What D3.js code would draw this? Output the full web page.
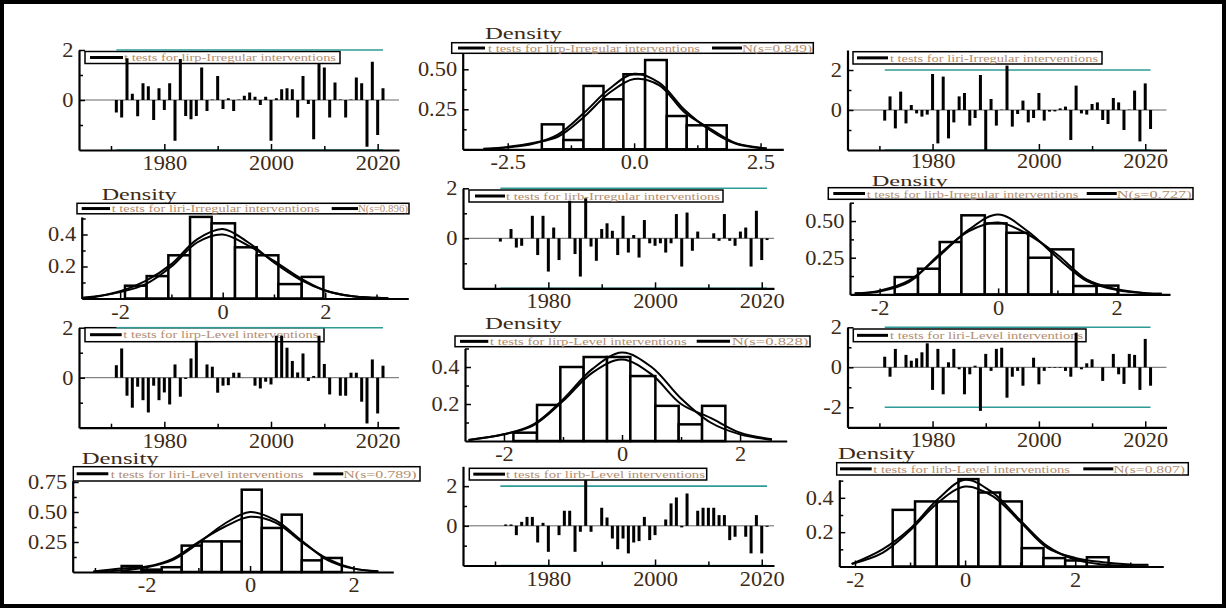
<!DOCTYPE html>
<html><head><meta charset="utf-8"><title>t tests</title>
<script src="https://cdn.jsdelivr.net/npm/d3@7/dist/d3.min.js"></script>
<style>html,body{margin:0;padding:0;background:#fff;}svg{display:block;}</style>
</head><body>
<svg id="chart" width="1227" height="609"></svg>
<script>
// ---------------- DATA ----------------
const years = [1971,1972,1973,1974,1975,1976,1977,1978,1979,1980,
  1981,1982,1983,1984,1985,1986,1987,1988,1989,1990,
  1991,1992,1993,1994,1995,1996,1997,1998,1999,2000,
  2001,2002,2003,2004,2005,2006,2007,2008,2009,2010,
  2011,2012,2013,2014,2015,2016,2017,2018,2019,2020,2021];

const tLirpIrregular = [-0.5,-0.7,1.67,0.25,-0.65,0.67,0.55,-0.8,0.47,-0.4,
  0.67,-1.63,1.64,-0.64,-0.77,-0.64,1.3,-0.44,0.02,0.96,
  -0.36,0.07,-0.44,0.02,0.17,0.3,0.13,-0.2,0.13,-1.63,
  0.07,0.43,0.47,0.43,-0.7,0.96,-0.16,-1.57,1.47,1.3,
  -0.7,0.7,0.02,-0.7,0.02,0.9,0.67,-1.87,1.53,-1.4,0.47];
const tLiriIrregular = [-0.53,0.68,-0.92,0.92,-0.67,0.25,-0.17,-0.33,-0.23,1.8,
  -1.67,1.67,-1.42,-0.62,0.68,0.85,-0.78,-0.4,1.75,-2.0,
  0.55,-0.78,0.02,2.22,-0.83,-0.2,0.47,-0.62,-0.4,0.85,
  -0.53,-0.08,-0.07,0.08,0.17,-1.5,1.22,-0.17,-0.23,0.3,
  0.38,-0.5,-0.7,0.6,0.38,-1.0,0.02,0.97,-1.57,1.33,-0.95];
const tLirbIrregular = [-0.13,0.0,0.37,-0.37,-0.3,0.0,0.9,-0.67,0.9,-1.33,
  0.43,-0.87,0.0,1.5,-0.63,-1.53,1.6,-0.33,-0.9,0.37,
  0.6,0.3,-0.67,0.9,-0.57,0.13,-0.77,0.73,-0.2,-0.3,
  -0.2,-0.57,-0.2,0.97,-1.13,1.03,-0.5,0.27,0.0,0.0,
  0.2,-0.1,0.97,-0.1,-0.3,0.27,0.43,-1.13,1.1,-0.87,-0.07];
const tLirpLevel = [0.5,1.17,-0.72,-1.2,-0.36,-0.9,-1.39,-0.32,-0.9,-0.59,
  -1.07,0.53,-0.76,-0.05,0.77,1.48,0.0,0.53,0.44,-0.6,
  -0.32,-0.3,0.2,0.2,0.0,0.0,-0.32,-0.43,-0.16,-0.27,
  1.68,1.68,1.2,0.67,0.21,0.97,-0.13,0.07,1.68,0.55,
  -0.67,0.0,-0.72,-0.72,0.2,0.2,-0.96,-1.83,0.73,-1.43,0.48];
const tLiriLevel = [0.53,-0.47,0.92,0.0,0.62,0.33,0.45,0.75,1.2,-1.13,
  0.92,-1.35,0.25,0.92,-0.1,-1.35,-0.35,0.08,-2.18,0.67,
  -0.18,0.92,0.98,-1.52,-0.47,-0.18,-0.92,0.0,0.48,-0.85,
  -0.18,-0.03,-0.03,-0.03,-0.18,-0.47,1.73,-0.1,0.2,0.4,
  0.0,-0.68,0.0,0.67,-0.35,-0.83,0.67,0.62,-1.13,1.42,-0.92];
const tLirbLevel = [0.0,0.07,0.07,-0.47,0.2,0.45,0.45,-0.84,0.15,-1.31,
  0.0,-0.47,0.76,0.76,-1.31,-0.3,2.3,-0.3,0.0,0.91,
  0.42,-0.64,-1.18,-0.64,-1.39,-0.84,-0.77,0.45,-0.72,-0.47,
  0.0,0.32,1.13,1.43,-0.08,1.63,0.0,0.76,0.91,0.91,
  0.91,0.54,0.54,-0.72,-0.55,0.0,-0.55,-1.39,0.54,-1.39,-0.05];

// histograms: bin edges and densities
const histLirpIrrEdges = [-1.825,-1.397,-1.001,-0.606,-0.211,0.217,0.645,1.04,1.436,1.831];
const histLirpIrrDens  = [0.156,0.058,0.396,0.3125,0.469,0.558,0.208,0.15,0.15];
const histLiriIrrEdges = [-1.906,-1.483,-1.06,-0.637,-0.215,0.24,0.663,1.086,1.541,1.964];
const histLiriIrrDens  = [0.08,0.14,0.27,0.51,0.47,0.32,0.27,0.09,0.135];
const histLirbIrrEdges = [-1.746,-1.352,-0.986,-0.62,-0.225,0.141,0.507,0.901,1.268,1.662,2.028];
const histLirbIrrDens  = [0.118,0.175,0.357,0.539,0.484,0.42,0.25,0.307,0.057,0.06];
const histLirpLevEdges = [-1.84,-1.44,-1.045,-0.65,-0.254,0.141,0.565,0.96,1.356,1.751];
const histLirpLevDens  = [0.045,0.195,0.4,0.454,0.454,0.351,0.19,0.09,0.19];
const histLiriLevEdges = [-2.483,-2.096,-1.709,-1.322,-0.935,-0.548,-0.161,0.226,0.613,1.0,1.387,1.774];
const histLiriLevDens  = [0.05,0.02,0.04,0.22,0.255,0.255,0.686,0.367,0.478,0.097,0.117];
const histLirbLevEdges = [-1.315,-0.909,-0.515,-0.121,0.242,0.636,1.03,1.424,1.818,2.212,2.606];
const histLirbLevDens  = [0.33,0.379,0.379,0.509,0.431,0.379,0.107,0.049,0.035,0.054];

// density curves: x, normal N(s=...), estimated density
const curveLirpIrrX    = [-2.98,-2.5,-2,-1.5,-1,-0.5,0,0.5,1,1.5,2,2.5,2.62];
const curveLirpIrrNorm = [0.002,0.012,0.035,0.094,0.225,0.375,0.472,0.415,0.245,0.12,0.036,0.008,0.005];
const curveLirpIrrKern = [0.003,0.015,0.04,0.08,0.2,0.35,0.44,0.4,0.23,0.13,0.04,0.01,0.006];
const curveLiriIrrX    = [-2.72,-2.5,-2,-1.5,-1,-0.5,0,0.5,1,1.5,2,2.5,3,3.23];
const curveLiriIrrNorm = [0.004,0.01,0.045,0.11,0.215,0.37,0.435,0.35,0.225,0.12,0.05,0.015,0.004,0.002];
const curveLiriIrrKern = [0.005,0.012,0.04,0.09,0.2,0.35,0.4,0.33,0.235,0.13,0.05,0.015,0.004,0.002];
const curveLirbIrrX    = [-2.42,-2,-1.5,-1,-0.5,0,0.5,1,1.5,2,2.5,2.76];
const curveLirbIrrNorm = [0.006,0.025,0.095,0.26,0.44,0.545,0.43,0.25,0.09,0.03,0.007,0.004];
const curveLirbIrrKern = [0.007,0.02,0.085,0.27,0.43,0.49,0.41,0.27,0.1,0.035,0.008,0.004];
const curveLirpLevX    = [-2.6,-2,-1.5,-1,-0.5,0,0.5,1,1.5,2,2.54];
const curveLirpLevNorm = [0.005,0.036,0.09,0.225,0.39,0.478,0.4,0.23,0.1,0.036,0.006];
const curveLirpLevKern = [0.006,0.036,0.085,0.216,0.37,0.44,0.36,0.2,0.125,0.045,0.009];
const curveLiriLevX    = [-3.03,-2.5,-2,-1.5,-1,-0.5,0,0.5,1,1.5,2,2.48];
const curveLiriLevNorm = [0.003,0.012,0.04,0.1,0.24,0.4,0.5,0.43,0.26,0.1,0.028,0.005];
const curveLiriLevKern = [0.005,0.03,0.045,0.11,0.25,0.375,0.46,0.41,0.25,0.11,0.03,0.006];
const curveLirbLevX    = [-2.06,-1.5,-1,-0.5,0,0.5,1,1.5,2,2.5,3,3.33];
const curveLirbLevNorm = [0.015,0.1,0.22,0.39,0.505,0.43,0.27,0.117,0.04,0.012,0.003,0.001];
const curveLirbLevKern = [0.015,0.08,0.21,0.37,0.466,0.41,0.26,0.107,0.05,0.025,0.012,0.01];

const seriesLabels = ['lirp-Irregular','liri-Irregular','lirb-Irregular','lirp-Level','liri-Level','lirb-Level'];
const normalSd = ['0.849','0.896','0.727','0.828','0.789','0.807'];
const yearMajor = [1980,2000,2020];
const yearMinor = [1970,1990,2010];

// ---------------- STYLE ----------------
const FONT = '"Liberation Serif","Times New Roman",Times,serif';
const LABEL = '#3d2a14';
const LEGTXT = '#b38e70';
const TEAL = '#2f9b97';

const svg = d3.select('#chart');
svg.append('rect').attr('width',1227).attr('height',609).attr('fill','#fff');

const fmtMinus = f => v => d3.format(f)(v).replace('\u2212','-');

function styleMajor(g){
  g.select('.domain').attr('stroke','#000').attr('stroke-width',2.2);
  g.selectAll('.tick line').attr('stroke','#000').attr('stroke-width',1.5);
  g.selectAll('.tick text').attr('fill',LABEL).attr('font-family',FONT)
    .attr('font-size',20).attr('transform','scale(1.12,1)');
}
function styleMinor(g){
  g.select('.domain').remove();
  g.selectAll('.tick line').attr('stroke','#000').attr('stroke-width',1.5);
}

function drawAxes(c, x, y){
  const g = svg.append('g');
  g.append('g').attr('transform',`translate(0,${c.y0})`)
    .call(d3.axisBottom(x).tickValues(c.xMin).tickSize(-4).tickFormat('')).call(styleMinor);
  g.append('g').attr('transform',`translate(0,${c.y0})`)
    .call(d3.axisBottom(x).tickValues(c.xMaj).tickSize(-6).tickSizeOuter(0).tickPadding(c.xPad||6).tickFormat(c.xFmt)).call(styleMajor);
  g.append('g').attr('transform',`translate(${c.x0},0)`)
    .call(d3.axisLeft(y).tickValues(c.yMin).tickSize(-4).tickFormat('')).call(styleMinor);
  g.append('g').attr('transform',`translate(${c.x0},0)`)
    .call(d3.axisLeft(y).tickValues(c.yMaj).tickSize(-6).tickSizeOuter(0).tickPadding(5).tickFormat(c.yFmt)).call(styleMajor);
}

function drawLegend(L, entries){
  const g = svg.append('g');
  g.append('rect').attr('x',L.x).attr('y',L.y).attr('width',L.w).attr('height',L.h)
    .attr('fill','#fff').attr('stroke','#000').attr('stroke-width',1.5);
  const cy = L.y + L.h/2;
  entries.forEach(e=>{
    g.append('line').attr('x1',e.l0).attr('x2',e.l1).attr('y1',cy).attr('y2',cy)
      .attr('stroke','#000').attr('stroke-width',3);
    g.append('text').attr('x',e.tx).attr('y',cy+(L.dy||3.7)).attr('textLength',e.tw)
      .attr('lengthAdjust','spacingAndGlyphs').attr('font-size',L.fs||11).attr('font-family',FONT)
      .attr('fill',LEGTXT).text(e.text);
  });
}

function tsPanel(c, values, label){
  const x = d3.scaleLinear().domain(c.xd).range([c.x0,c.x1]);
  const y = d3.scaleLinear().domain(c.yd).range([c.y0,c.y1]);
  drawLegend(c.leg, [{l0:c.leg.l0,l1:c.leg.l1,tx:c.leg.tx,tw:c.leg.tw,text:`t tests for ${label} interventions`}]);
  const g = svg.append('g');
  [-2,2].forEach(v=>{
    g.append('line').attr('x1',x(years[0])).attr('x2',x(years[years.length-1]))
      .attr('y1',y(v)).attr('y2',y(v)).attr('stroke',TEAL).attr('stroke-width',1.6);
  });
  g.append('line').attr('x1',c.x0).attr('x2',c.x1).attr('y1',y(0)).attr('y2',y(0))
    .attr('stroke','#666').attr('stroke-width',1);
  g.selectAll('rect.bar').data(years.map((yr,i)=>({yr,v:values[i]}))).join('rect')
    .attr('class','bar')
    .attr('x',d=>x(d.yr)-1.5).attr('width',3)
    .attr('y',d=>Math.min(y(d.v),y(0))).attr('height',d=>Math.abs(y(d.v)-y(0)))
    .attr('fill','#000');
  drawAxes(c, x, y);
}

function densPanel(c, edges, dens, cx, cn, ck, label, sd){
  const x = d3.scaleLinear().domain(c.xd).range([c.x0,c.x1]);
  const y = d3.scaleLinear().domain(c.yd).range([c.y0,c.y1]);
  const g = svg.append('g');
  g.selectAll('rect.hb').data(dens.map((d,i)=>({a:edges[i],b:edges[i+1],d}))).join('rect')
    .attr('class','hb')
    .attr('x',d=>x(d.a)).attr('width',d=>x(d.b)-x(d.a))
    .attr('y',d=>y(d.d)).attr('height',d=>y(0)-y(d.d))
    .attr('fill','#fff').attr('stroke','#000').attr('stroke-width',2.5);
  const line = d3.line().x(d=>x(d[0])).y(d=>y(d[1])).curve(d3.curveCatmullRom.alpha(0.5));
  [cn, ck].forEach(arr=>{
    g.append('path').attr('d',line(cx.map((v,i)=>[v,arr[i]])))
      .attr('fill','none').attr('stroke','#000').attr('stroke-width',2);
  });
  drawAxes(c, x, y);
  svg.append('text').attr('x',c.title.x).attr('y',c.title.y).attr('textLength',c.title.w)
    .attr('lengthAdjust','spacingAndGlyphs').attr('font-family',FONT).attr('font-size',c.title.fs||17.5)
    .attr('fill',LABEL).text('Density');
  const L = c.leg;
  drawLegend(L, [
    {l0:L.l0,l1:L.l1,tx:L.tx,tw:L.tw,text:`t tests for ${label} interventions`},
    {l0:L.m0,l1:L.m1,tx:L.nx,tw:L.nw,text:`N(s=${sd})`}
  ]);
}

// ---------------- LAYOUT ----------------
const tsX = {xMaj:yearMajor, xMin:yearMinor, xFmt:d3.format('d'), yFmt:fmtMinus('d')};
const dX = {xFmt:fmtMinus('d')};

tsPanel(Object.assign({},tsX,{x0:79,x1:399,xd:[1964,2024],y0:150,y1:50,yd:[-2,2],yMaj:[0,2],yMin:[-1,1],
  leg:{x:85,y:51.5,w:255,h:12,l0:90,l1:123,tx:124,tw:212}}), tLirpIrregular, seriesLabels[0]);
tsPanel(Object.assign({},tsX,{x0:847.5,x1:1166.5,xd:[1964,2024],y0:150,y1:50,yd:[-2,3],yMaj:[0,2],yMin:[-1,1],xPad:3.5,
  leg:{x:853,y:51.7,w:249,h:12.3,l0:857,l1:888,tx:890,tw:208}}), tLiriIrregular, seriesLabels[1]);
tsPanel(Object.assign({},tsX,{x0:463,x1:774,xd:[1964,2022.3],y0:288.3,y1:188.3,yd:[-2,2],yMaj:[0,2],yMin:[-1,1],
  leg:{x:469,y:190,w:254,h:12,l0:475,l1:505,tx:506,tw:214}}), tLirbIrregular, seriesLabels[2]);
tsPanel(Object.assign({},tsX,{x0:79,x1:399,xd:[1964,2024],y0:427.7,y1:327.7,yd:[-2,2],yMaj:[0,2],yMin:[-1,1],
  leg:{x:85,y:327.7,w:239,h:14,l0:90,l1:121.7,tx:123.3,tw:195}}), tLirpLevel, seriesLabels[3]);
tsPanel(Object.assign({},tsX,{x0:847.5,x1:1166.5,xd:[1964,2024],y0:427.3,y1:327.3,yd:[-3,2],yMaj:[-2,0,2],yMin:[-1,1],
  leg:{x:853.3,y:329,w:232.7,h:12.7,l0:857,l1:888,tx:890,tw:193.3}}), tLiriLevel, seriesLabels[4]);
tsPanel(Object.assign({},tsX,{x0:463,x1:774,xd:[1964,2022.3],y0:565.5,y1:466.3,yd:[-2,3],yMaj:[0,2],yMin:[-1,1],
  leg:{x:469.3,y:468.3,w:237.4,h:11.7,l0:473.3,l1:505,tx:506,tw:199}}), tLirbLevel, seriesLabels[5]);

densPanel(Object.assign({},{x0:462.7,x1:783.3,xd:[-3.39,2.95],y0:149.3,y1:48.5,yd:[0,0.63],
  xMaj:[-2.5,0,2.5],xMin:[-1.25,1.25],xFmt:fmtMinus('.1f'),yMaj:[0.25,0.5],yMin:[0.125,0.375,0.625],yFmt:d3.format('.2f'),
  title:{x:485,y:39,w:77},
  leg:{x:451.7,y:42.7,w:361.6,h:10.6,l0:458,l1:485,tx:488,tw:212,m0:712,m1:742,nx:742,nw:70}}),
  histLirpIrrEdges,histLirpIrrDens,curveLirpIrrX,curveLirpIrrNorm,curveLirpIrrKern,seriesLabels[0],normalSd[0]);
densPanel(Object.assign({},dX,{x0:81.7,x1:408.3,xd:[-2.75,3.62],y0:298.5,y1:216.9,yd:[0,0.51],
  xMaj:[-2,0,2],xMin:[-1,1,3],yMaj:[0.2,0.4],yMin:[0.1,0.3,0.5],yFmt:d3.format('.1f'),
  title:{x:101.7,y:199.5,w:75},
  leg:{x:77,y:203.3,w:332,h:10.5,l0:81.7,l1:110,tx:111.7,tw:208,m0:331.7,m1:358,nx:358,nw:50}}),
  histLiriIrrEdges,histLiriIrrDens,curveLiriIrrX,curveLiriIrrNorm,curveLiriIrrKern,seriesLabels[1],normalSd[1]);
densPanel(Object.assign({},dX,{x0:850,x1:1170,xd:[-2.5,2.9],y0:294.4,y1:202.7,yd:[0,0.625],
  xMaj:[-2,0,2],xMin:[-1,1],yMaj:[0.25,0.5],yMin:[0.125,0.375,0.625],yFmt:d3.format('.2f'),
  title:{x:871.7,y:185.8,w:76,fs:15.5},
  leg:{x:828.3,y:187.7,w:364.7,h:11.6,fs:10.5,dy:4.7,l0:833.3,l1:865,tx:866.7,tw:211.7,m0:1086.7,m1:1116.7,nx:1116.7,nw:75}}),
  histLirbIrrEdges,histLirbIrrDens,curveLirbIrrX,curveLirbIrrNorm,curveLirbIrrKern,seriesLabels[2],normalSd[2]);
densPanel(Object.assign({},dX,{x0:465,x1:786.7,xd:[-2.66,2.79],y0:441,y1:348.5,yd:[0,0.5],
  xMaj:[-2,0,2],xMin:[-1,1],yMaj:[0.2,0.4],yMin:[0.1,0.3,0.5],yFmt:d3.format('.1f'),
  title:{x:485,y:329,w:77},
  leg:{x:455,y:336,w:355,h:10.7,l0:460,l1:488.3,tx:490,tw:196.7,m0:696.7,m1:730,nx:731.7,nw:76.7}}),
  histLirpLevEdges,histLirpLevDens,curveLirpLevX,curveLirpLevNorm,curveLirpLevKern,seriesLabels[3],normalSd[3]);
densPanel(Object.assign({},dX,{x0:72.7,x1:393.3,xd:[-3.43,2.77],y0:572,y1:480.8,yd:[0,0.76],
  xMaj:[-2,0,2],xMin:[-3,-1,1],yMaj:[0.25,0.5,0.75],yMin:[0.125,0.375,0.625],yFmt:d3.format('.2f'),
  title:{x:81.7,y:463.5,w:77},
  leg:{x:73.3,y:466.7,w:346.7,h:14.3,l0:76.7,l1:108.3,tx:110.7,tw:192.7,m0:313.3,m1:343.3,nx:343.3,nw:73.3}}),
  histLiriLevEdges,histLiriLevDens,curveLiriLevX,curveLiriLevNorm,curveLiriLevKern,seriesLabels[4],normalSd[4]);
densPanel(Object.assign({},dX,{x0:839.3,x1:1163.3,xd:[-2.285,3.6],y0:566.5,y1:479.8,yd:[0,0.505],
  xMaj:[-2,0,2],xMin:[-1,1,3],yMaj:[0.2,0.4],yMin:[0.1,0.3,0.5],yFmt:d3.format('.1f'),
  title:{x:838,y:459,w:77},
  leg:{x:836.7,y:462.7,w:351.6,h:12.3,l0:840,l1:871.7,tx:873.3,tw:196.7,m0:1083.3,m1:1113.3,nx:1113.3,nw:71.7}}),
  histLirbLevEdges,histLirbLevDens,curveLirbLevX,curveLirbLevNorm,curveLirbLevKern,seriesLabels[5],normalSd[5]);

// outer frame
svg.append('rect').attr('x',2).attr('y',2).attr('width',1222).attr('height',604)
  .attr('fill','none').attr('stroke','#000').attr('stroke-width',4);
</script>
</body></html>
